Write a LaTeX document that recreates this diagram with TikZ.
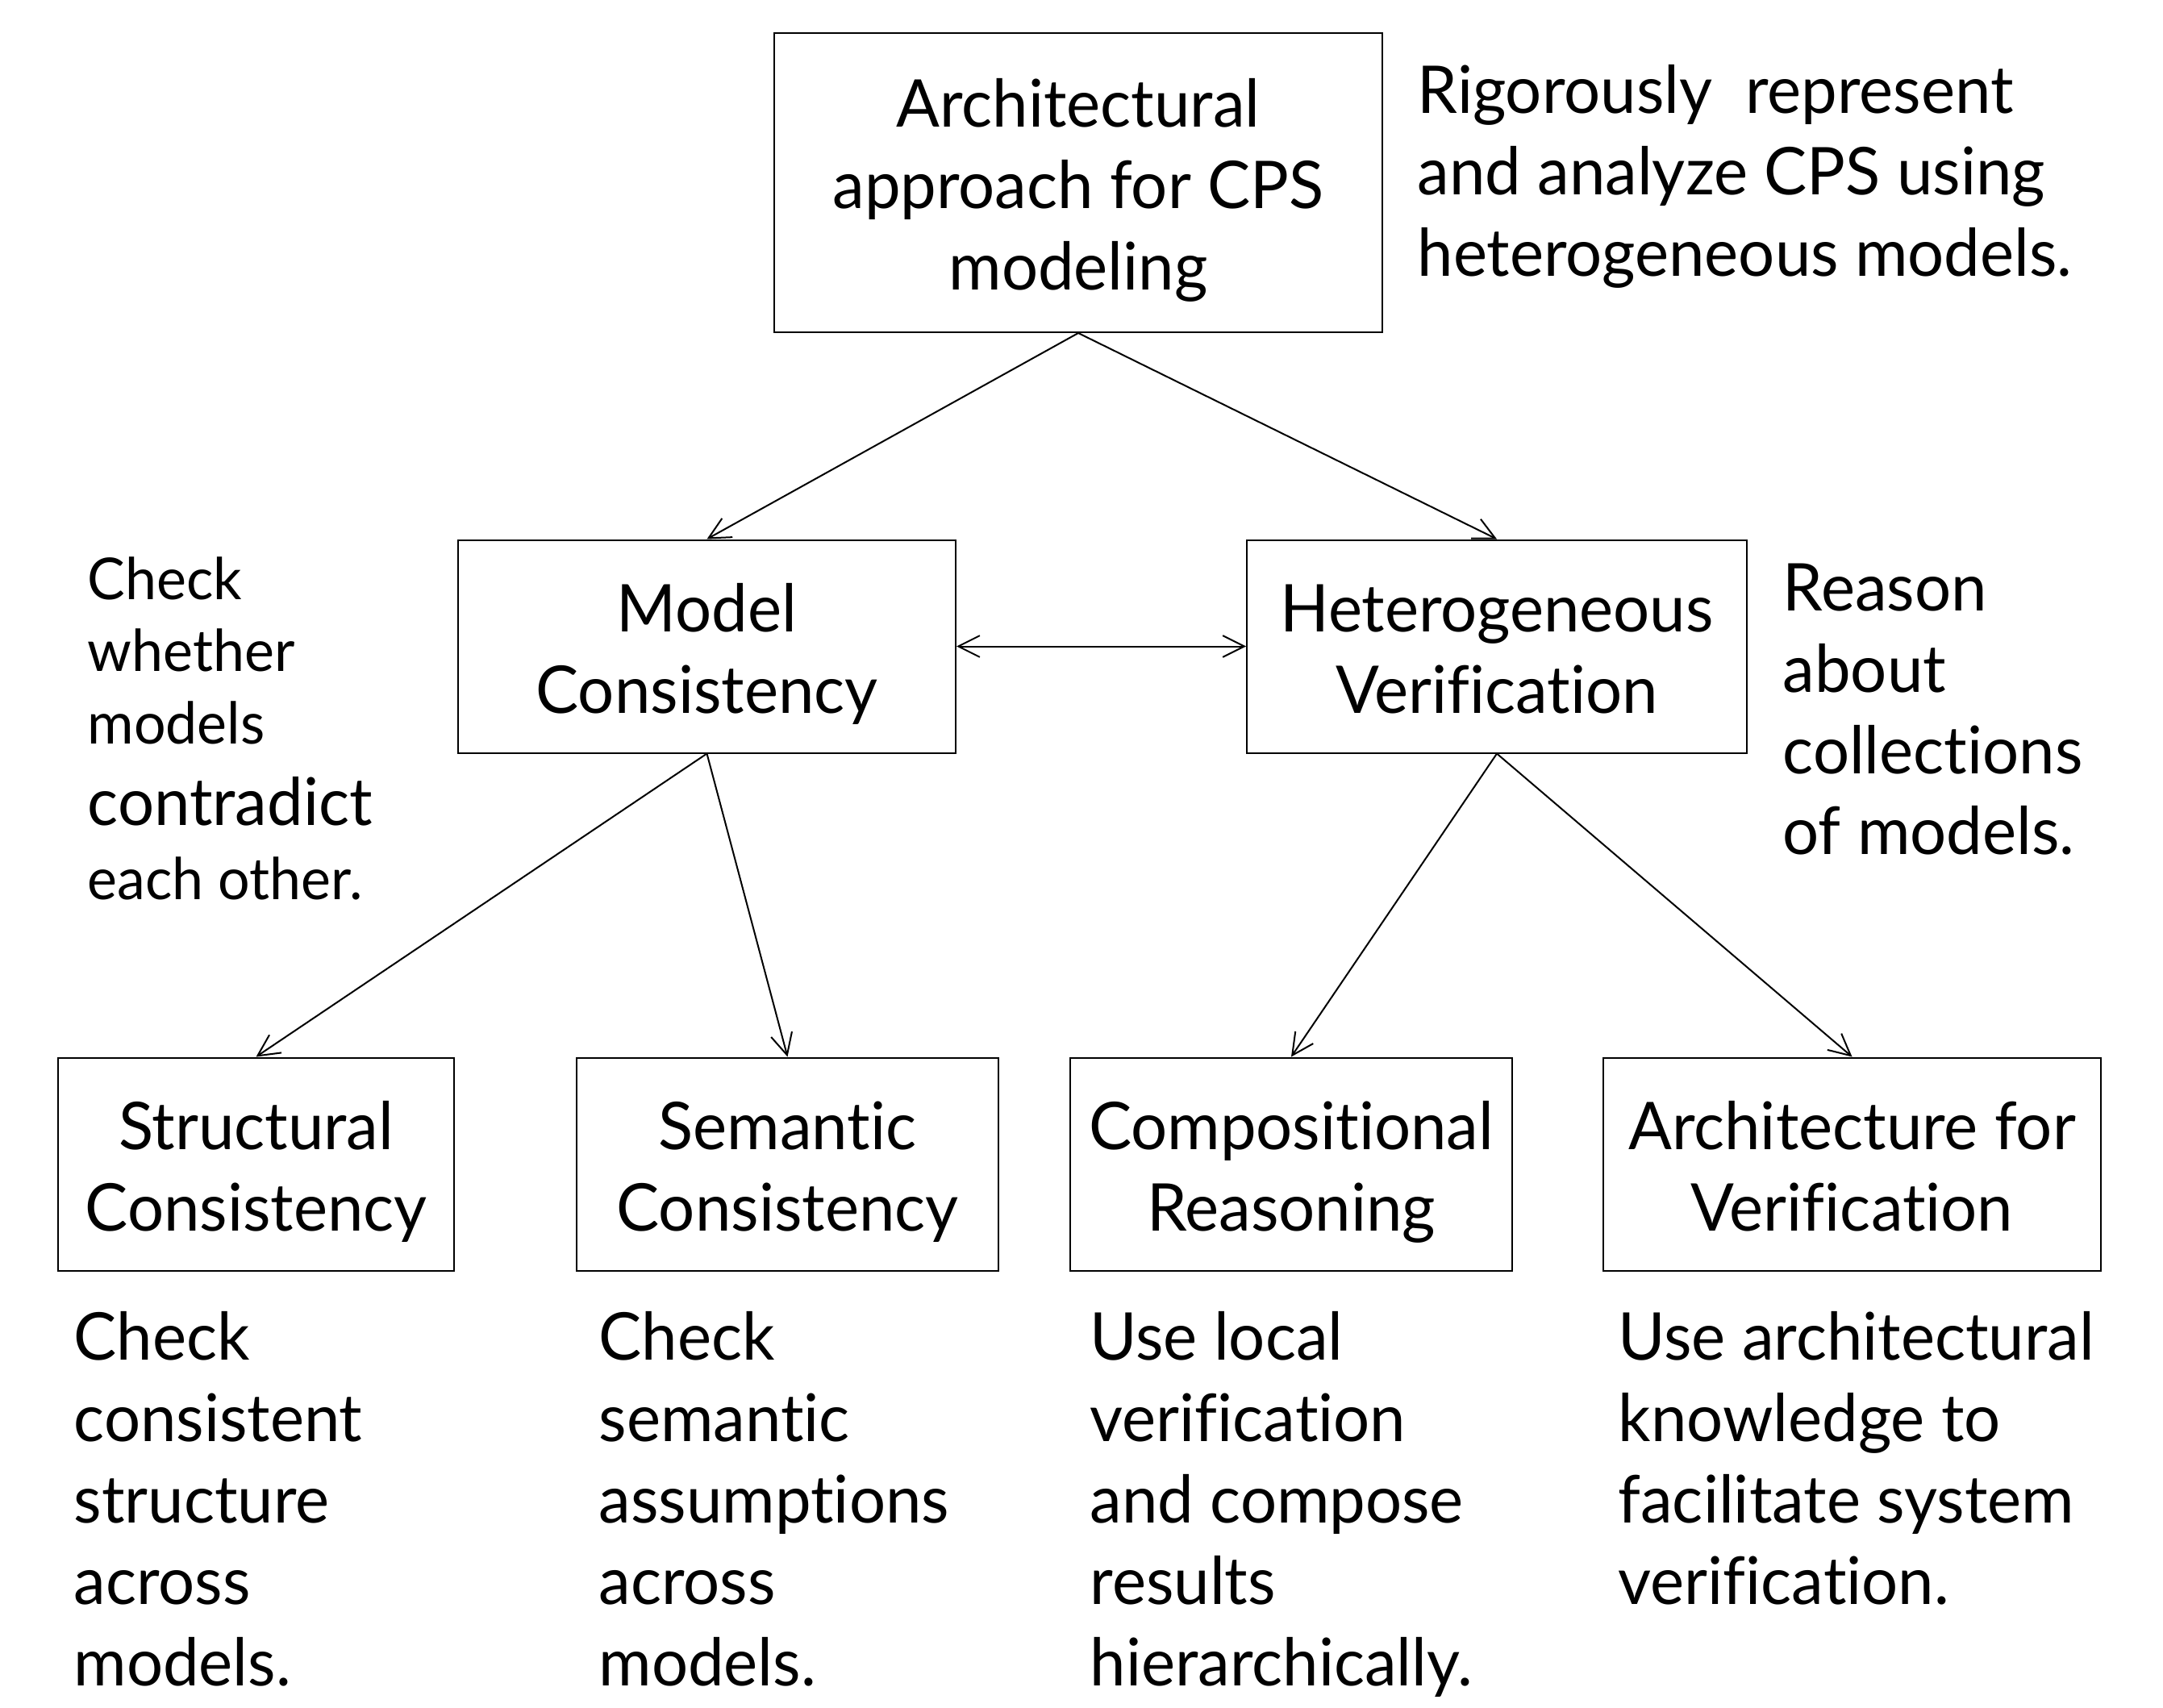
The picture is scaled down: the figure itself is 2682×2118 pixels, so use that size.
\documentclass[tikz,border=0pt]{standalone}
\usepackage{fontspec}
\setmainfont{Lato}[FakeStretch=0.975, Ligatures=NoCommon]
\usetikzlibrary{arrows.meta}
\newcommand{\mainsize}{\fontsize{24.5}{30.3}\selectfont}
\newcommand{\smallsize}{\fontsize{21.5}{27}\selectfont}
\newcommand{\boxlines}[1]{\begin{tabular}[b]{@{}c@{}}#1\end{tabular}}
\newcommand{\desclines}[1]{\begin{tabular}[t]{@{}l@{}}#1\end{tabular}}
\begin{document}
\begin{tikzpicture}[x=0.3pt,y=-0.3pt,
  box/.style={draw, line width=0.6pt, inner sep=0pt, font=\mainsize, text depth=0pt, text height=49.5pt, minimum height=79.2pt},
  box3/.style={box, text height=80pt},
  desc/.style={anchor=base west, inner sep=0pt, font=\mainsize},
  descsmall/.style={desc, font=\smallsize},
  conn/.style={line width=0.6pt, -{Straight Barb[length=8pt,width=8pt]}},
  biconn/.style={line width=0.6pt, {Straight Barb[length=8pt,width=8pt]}-{Straight Barb[length=8pt,width=8pt]}},
]
\fill[white] (0,0) rectangle (2682,2118);
\useasboundingbox (0,0) rectangle (2682,2118);

% boxes
\node[box3, minimum width=226.2pt, minimum height=111.3pt] (top) at (1337,226.5)
  {\boxlines{Architectural\\approach for CPS\\modeling}};
\node[box, minimum width=185.1pt] (mc) at (876.5,801.5) {\boxlines{Model\\Consistency}};
\node[box, minimum width=186pt] (hv) at (1856,801.5) {\boxlines{Heterogeneous\\Verification}};
\node[box, minimum width=147.3pt] (sc) at (317.5,1443.5) {\boxlines{Structural\\Consistency}};
\node[box, minimum width=156.9pt] (smc) at (976.5,1443.5) {\boxlines{Semantic\\Consistency}};
\node[box, minimum width=164.4pt] (cr) at (1601,1443.5) {\boxlines{Compositional\\Reasoning}};
\node[box, minimum width=185.1pt] (av) at (2296.5,1443.5) {\boxlines{Architecture for\\Verification}};

% descriptions
\node[desc] (dtop) at (1757,141)
  {\desclines{Rigorously\ \ represent\\and analyze CPS using\\heterogeneous models.}};
\node[descsmall] (dmc) at (108,743)
  {\desclines{Check\\whether\\models\\[3.3pt]{\mainsize contradict}\\[0.6pt]each other.}};
\node[desc] (dhv) at (2210,757)
  {\desclines{Reason\\about\\collections\\of models.}};
\node[desc] (dsc) at (91,1686)
  {\desclines{Check\\consistent\\structure\\across\\models.}};
\node[desc] (dsmc) at (742,1686)
  {\desclines{Check\\semantic\\assumptions\\across\\models.}};
\node[desc] (dcr) at (1351,1686)
  {\desclines{Use local\\verification\\and compose\\results\\hierarchically.}};
\node[desc] (dav) at (2006,1686)
  {\desclines{Use architectural\\knowledge to\\facilitate system\\verification.}};

% connectors
\draw[conn] (top.south) -- (mc.north);
\draw[conn] (top.south) -- (hv.north);
\draw[biconn] (mc.east) -- (hv.west);
\draw[conn] (mc.south) -- (sc.north);
\draw[conn] (mc.south) -- (smc.north);
\draw[conn] (hv.south) -- (cr.north);
\draw[conn] (hv.south) -- (av.north);
\end{tikzpicture}
\end{document}
